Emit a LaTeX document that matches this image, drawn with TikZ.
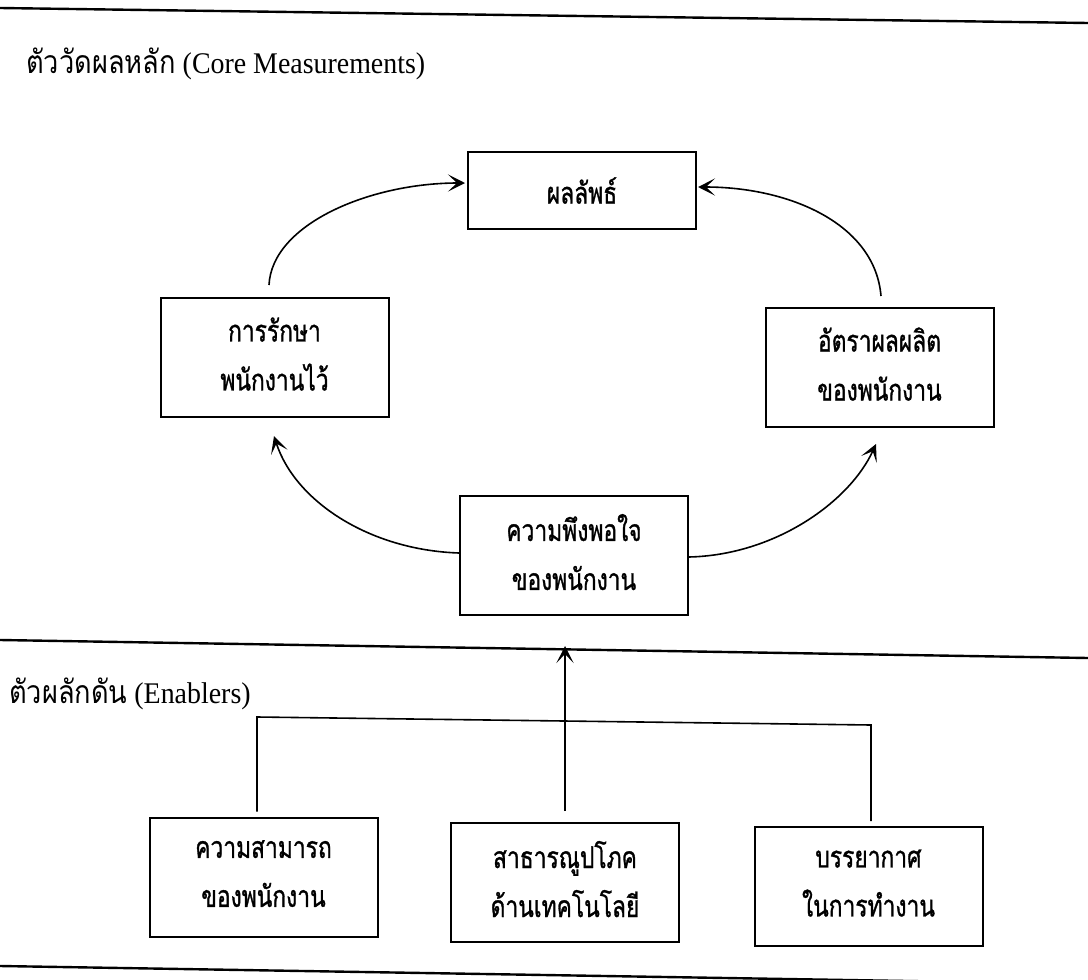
\documentclass[tikz,border=0pt]{standalone}
\usepackage{fontspec}
\setmainfont{Liberation Serif}
\newfontfamily\thai[Script=Thai,FakeStretch=0.76,FakeBold=1]{Loma}
\newfontfamily\thaititle[Script=Thai,FakeStretch=0.85]{Loma}
\newfontfamily\latin[FakeStretch=0.93]{Liberation Serif}
\newcommand\topstrut{\rule{0pt}{36pt}}
\newcommand\botstrut{\rule[-7pt]{0pt}{7pt}}
\usetikzlibrary{arrows.meta}
\tikzset{
  box/.style={draw, line width=2pt, minimum width=228pt, minimum height=119pt,
    inner sep=0pt, align=center, font=\thai\fontsize{30}{49}\selectfont},
  twoline/.style={box, execute at begin node=\topstrut, execute at end node=\botstrut},
  conn/.style={line width=1.6pt},
  arr/.style={conn, -{Stealth[length=17pt,width=17pt,inset=9pt]}},
  sep/.style={line width=2.4pt},
  heading/.style={anchor=base west, inner sep=0pt, font=\latin\fontsize{30}{34}\selectfont}
}
\begin{document}
\begin{tikzpicture}[x=1pt,y=-1pt]
\useasboundingbox (0,0) rectangle (1088,980);
\clip (0,0) rectangle (1088,980);
% separators
\draw[sep] (0,8) -- (1088,23);
\draw[sep] (0,640) -- (1088,658);
\draw[sep] (0,966) -- (1088,984);
% headings
\node[heading] (h1) at (26,73) {{\thaititle\fontsize{32}{34}\selectfont ตัววัดผลหลัก} (Core Measurements)};
\node[heading] (h2) at (9,703) {{\thaititle\fontsize{32}{34}\selectfont ตัวผลักดัน} (Enablers)};
% boxes
\node[box, minimum height=77pt] (out) at (582,190.5) {ผลลัพธ์};
\node[twoline] (ret) at (274.5,357.5) {การรักษา\\พนักงานไว้};
\node[twoline] (prod) at (879.5,367.5) {อัตราผลผลิต\\ของพนักงาน};
\node[twoline] (sat) at (574,555.5) {ความพึงพอใจ\\ของพนักงาน};
\node[twoline] (cap) at (263.5,877) {ความสามารถ\\ของพนักงาน};
\node[twoline] (tech) at (565,882.5) {สาธารณูปโภค\\ด้านเทคโนโลยี};
\node[twoline] (env) at (868.5,886.5) {บรรยากาศ\\ในการทำงาน};
% curved arrows
\draw[arr] ([xshift=-5.5pt,yshift=12pt]ret.north) .. controls +(3,-61) and +(-95,0) .. ([xshift=-2pt,yshift=7.5pt]out.west);
\draw[arr] ([xshift=1.5pt,yshift=11pt]prod.north) .. controls +(-6,-72) and +(92,0) .. ([xshift=1pt,yshift=3.5pt]out.east);
\draw[arr] ([yshift=2.5pt]sat.west) .. controls +(-90,-3) and +(21,65) .. ([xshift=-0.5pt,yshift=-18pt]ret.south);
\draw[arr] ([yshift=-1.5pt]sat.east) .. controls +(87,-2) and +(-26,57) .. ([xshift=-3.5pt,yshift=-16pt]prod.south);
% enablers
\coordinate (sepPt) at (565,646);
\draw[arr] ([yshift=11pt]tech.north) -- (sepPt);
\coordinate (brkL) at (0,717);
\coordinate (brkR) at (0,725);
\draw[conn] ([xshift=-6.5pt,yshift=5pt]cap.north) -- ([xshift=-6.5pt]cap.north |- brkL) -- ([xshift=2.5pt]env.north |- brkR) -- ([xshift=2.5pt,yshift=5pt]env.north);
\end{tikzpicture}
\end{document}
